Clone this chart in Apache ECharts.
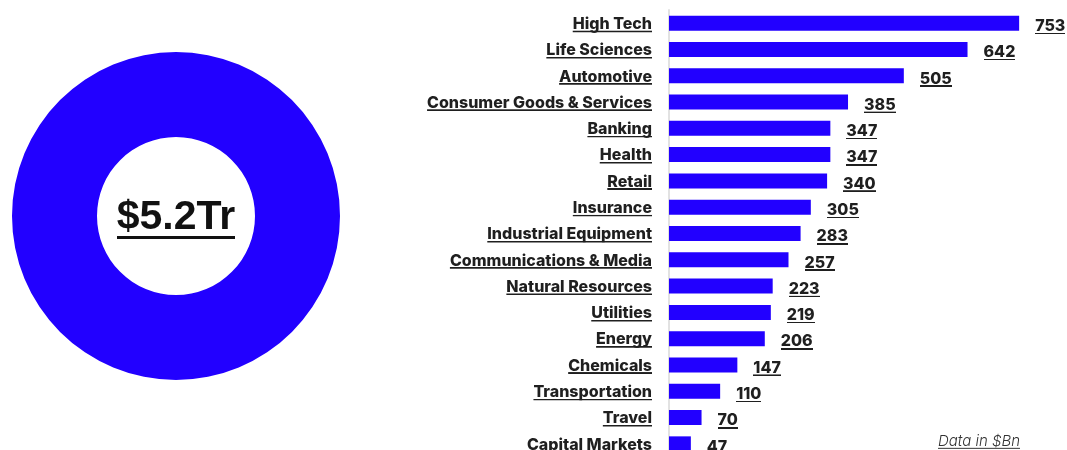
<!DOCTYPE html>
<html>
<head>
<meta charset="utf-8">
<script src="https://cdn.jsdelivr.net/npm/echarts@6/dist/echarts.min.js"></script>
<style>
html,body{margin:0;padding:0;background:#fff;overflow:hidden;}
#chart{width:1067px;height:458px;}
</style>
</head>
<body>
<div id="chart"></div>
<script>
const categories = ['High Tech','Life Sciences','Automotive','Consumer Goods & Services','Banking','Health','Retail','Insurance','Industrial Equipment','Communications & Media','Natural Resources','Utilities','Energy','Chemicals','Transportation','Travel','Capital Markets'];
const values = [753,642,505,385,347,347,340,305,283,257,223,219,206,147,110,70,47];
const totalLabel = '$5.2Tr';
const noteText = 'Data in $Bn';

const BLUE = '#2200ff';
const INK = '#1f1f1f';

// underline drawn as a background image of the rich-text box
function underline(lineHeight, thickness, color) {
  const s = 4;
  const c = document.createElement('canvas');
  c.width = 2;
  c.height = Math.round(lineHeight * s);
  const ctx = c.getContext('2d');
  ctx.fillStyle = color;
  const t = Math.round(thickness * s);
  ctx.fillRect(0, c.height - t, 2, t);
  return c;
}

const chart = echarts.init(document.getElementById('chart'), null, {renderer: 'canvas'});
chart.setOption({
  animation: false,
  title: {
    text: '{u|' + noteText + '}',
    right: 47,
    top: 433,
    padding: 0,
    textStyle: {
      rich: {
        u: {
          fontFamily: 'Inter',
          fontStyle: 'italic',
          fontWeight: 300,
          fontSize: 15,
          color: '#333',
          lineHeight: 16,
          backgroundColor: {image: underline(16, 1, '#555')}
        }
      }
    }
  },
  grid: {left: 669, top: 10, bottom: 1, width: 372, containLabel: false},
  xAxis: {
    type: 'value', min: 0, max: 800, show: false
  },
  yAxis: {
    type: 'category',
    data: categories,
    inverse: true,
    axisTick: {show: false},
    axisLine: {show: true, lineStyle: {color: '#e2e2e2', width: 2}},
    axisLabel: {
      margin: 17,
      formatter: v => '{u|' + v + '}',
      rich: {
        u: {
          fontFamily: 'Inter',
          fontWeight: 800,
          fontSize: 16,
          color: INK,
          lineHeight: 15,
          padding: [2, 0, 0, 0],
          backgroundColor: {image: underline(17, 1.5, INK)}
        }
      }
    }
  },
  series: [
    {
      type: 'bar',
      data: values,
      barWidth: '57%',
      itemStyle: {color: BLUE},
      silent: true,
      label: {
        show: true,
        position: 'right',
        distance: 16,
        formatter: '{u|{c}}',
        rich: {
          u: {
            fontFamily: 'Inter',
            fontWeight: 800,
            fontSize: 16,
            color: INK,
            lineHeight: 16,
            padding: [6, 0, 0, 0],
            backgroundColor: {image: underline(22, 1.5, INK)}
          }
        }
      }
    },
    {
      type: 'pie',
      center: [176, 216],
      radius: [79, 164],
      silent: true,
      itemStyle: {color: BLUE},
      emphasis: {disabled: true},
      labelLine: {show: false},
      label: {
        show: true,
        position: 'center',
        formatter: '{u|' + totalLabel + '}',
        rich: {
          u: {
            fontFamily: 'Liberation Sans',
            fontWeight: 'bold',
            fontSize: 41,
            color: '#111',
            lineHeight: 36,
            padding: [4, 0, 0, 0],
            backgroundColor: {image: underline(40, 2, '#111')}
          }
        }
      },
      data: [{value: values.reduce((a, b) => a + b, 0), name: 'Total'}]
    }
  ]
});
</script>
</body>
</html>
